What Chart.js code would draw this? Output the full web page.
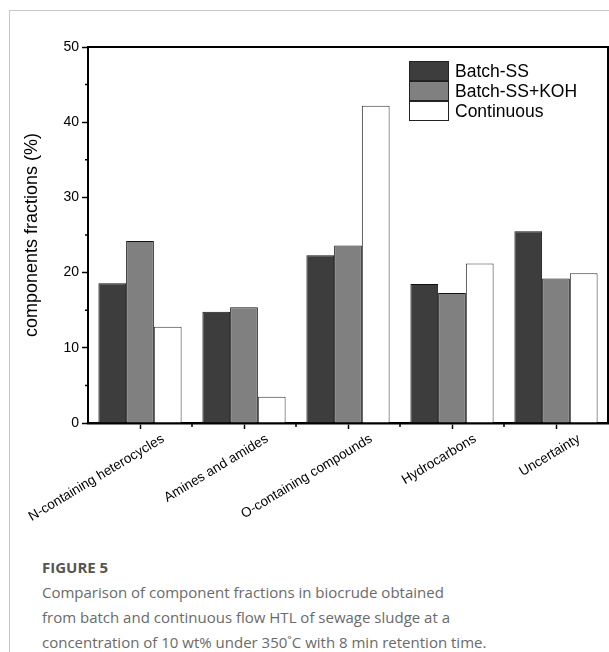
<!DOCTYPE html>
<html>
<head>
<meta charset="utf-8">
<script src="https://cdn.jsdelivr.net/npm/chart.js@4/dist/chart.umd.min.js"></script>
<style>
  html, body { margin: 0; padding: 0; background: #fff; }
  body { width: 609px; height: 652px; position: relative; overflow: hidden; }
  #frame {
    position: absolute; left: 9px; top: 10px; width: 620px; height: 660px;
    border-left: 1px solid #c8c8c8; border-top: 1px solid #c8c8c8;
  }
  #chart { position: absolute; left: 0; top: 0; }
  #legend {
    position: absolute; left: 409px; top: 61px;
    font-family: 'Liberation Sans', Arial, sans-serif; font-size: 17.5px; color: #000;
  }
  .leg-row { height: 20px; display: flex; align-items: center; }
  .leg-box { width: 38px; height: 18px; border: 1px solid #222; margin-right: 6px; }
  #caption {
    position: absolute; left: 42px; top: 556px; width: 560px;
    font-family: 'Open Sans', sans-serif; color: #6a6a6a;
  }
  #caption .fig { font-weight: 700; font-size: 15px; color: #555; line-height: 22px; }
  #caption .txt { font-size: 15px; line-height: 25px; margin-top: 2px; }
</style>
</head>
<body>
<div id="frame"></div>
<canvas id="chart" width="609" height="545"></canvas>
<div id="legend"></div>
<div id="caption">
  <div class="fig">FIGURE 5</div>
  <div class="txt">Comparison of component fractions in biocrude obtained<br>from batch and continuous flow HTL of sewage sludge at a<br>concentration of 10 wt% under 350˚C with 8 min retention time.</div>
</div>
<script>
const categories = ['N-containing heterocycles', 'Amines and amides', 'O-containing compounds', 'Hydrocarbons', 'Uncertainty'];
const seriesNames = ['Batch-SS', 'Batch-SS+KOH', 'Continuous'];
const batchSS = [18.6, 14.8, 22.3, 18.5, 25.5];
const batchSSKOH = [24.2, 15.4, 23.6, 17.3, 19.2];
const continuous = [12.8, 3.5, 42.2, 21.2, 19.9];
const fills = ['#3d3d3d', '#808080', '#ffffff'];
const yTicks = [0, 10, 20, 30, 40, 50];

const FONT = "'Liberation Sans', Arial, sans-serif";

// legend in html
const legend = document.getElementById('legend');
legend.innerHTML = seriesNames.map((name, i) =>
  `<div class="leg-row"><span class="leg-box" style="background:${fills[i]}"></span>${name}</div>`
).join('');

// frame box + minor ticks
const framePlugin = {
  id: 'frame',
  afterDraw(chart) {
    const { ctx, chartArea: a, scales } = chart;
    ctx.save();
    ctx.strokeStyle = '#000';
    ctx.lineWidth = 2;
    ctx.beginPath();
    ctx.moveTo(a.left, a.top);
    ctx.lineTo(a.right, a.top);
    ctx.lineTo(a.right, a.bottom);
    ctx.stroke();

    ctx.lineWidth = 1.5;
    ctx.beginPath();
    for (let v = 5; v < 50; v += 10) {
      const y = scales.y.getPixelForValue(v);
      ctx.moveTo(a.left - 3, y);
      ctx.lineTo(a.left, y);
    }
    const n = categories.length;
    for (let i = 0; i < n - 1; i++) {
      const x = (scales.x.getPixelForValue(i) + scales.x.getPixelForValue(i + 1)) / 2;
      ctx.moveTo(x, a.bottom);
      ctx.lineTo(x, a.bottom + 4);
    }
    ctx.stroke();
    ctx.restore();
  }
};

new Chart(document.getElementById('chart'), {
  type: 'bar',
  data: {
    labels: categories,
    datasets: [batchSS, batchSSKOH, continuous].map((data, i) => ({
      label: seriesNames[i],
      data,
      backgroundColor: fills[i],
      borderColor: i === 2 ? '#333' : '#111',
      borderWidth: 1,
      borderSkipped: 'bottom',
      categoryPercentage: 0.8,
      barPercentage: 1.0
    }))
  },
  options: {
    responsive: false,
    animation: false,
    devicePixelRatio: 1,
    layout: { padding: { top: 47, right: 1, left: 0, bottom: 0 } },
    scales: {
      x: {
        afterFit: s => { s.height = 122; s.paddingLeft = 0; s.paddingRight = 0; },
        grid: {
          offset: false,
          drawOnChartArea: false,
          tickLength: 6,
          tickColor: '#000',
          tickWidth: 1.5
        },
        border: { display: true, color: '#000', width: 2.5 },
        ticks: {
          color: '#000',
          font: { family: FONT, size: 13.5 },
          minRotation: 31,
          maxRotation: 31,
          padding: 2,
          labelOffset: 23,
          autoSkip: false
        }
      },
      y: {
        min: 0,
        max: 50,
        afterFit: s => { s.width = 88; },
        afterBuildTicks: s => { s.ticks = yTicks.map(v => ({ value: v })); },
        grid: {
          drawOnChartArea: false,
          tickLength: 6,
          tickColor: '#000',
          tickWidth: 1.5
        },
        border: { display: true, color: '#000', width: 2 },
        ticks: {
          color: '#000',
          font: { family: FONT, size: 14 },
          padding: 3
        },
        title: {
          display: true,
          text: 'components fractions (%)',
          color: '#000',
          font: { family: FONT, size: 18 },
          padding: { top: 21, bottom: 0 }
        }
      }
    },
    plugins: {
      legend: { display: false },
      tooltip: { enabled: false }
    }
  },
  plugins: [framePlugin]
});
</script>
</body>
</html>
